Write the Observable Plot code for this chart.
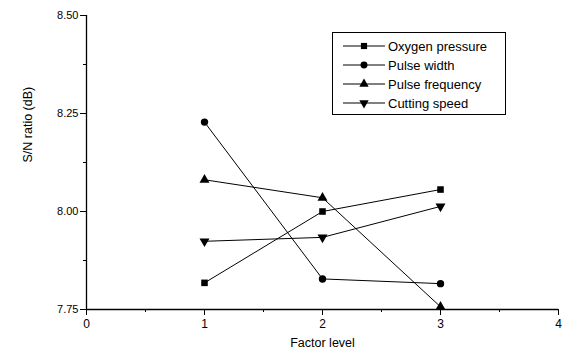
<!DOCTYPE html>
<html>
<head>
<meta charset="utf-8">
<script src="https://cdn.jsdelivr.net/npm/d3@7"></script>
<script src="https://cdn.jsdelivr.net/npm/@observablehq/plot@0.6"></script>
<style>
  html, body { margin: 0; padding: 0; background: #fff; }
  #wrap { position: relative; width: 562px; height: 360px; font-family: "Liberation Sans", Arial, sans-serif; }
  #legend { position: absolute; left: 332px; top: 32px; width: 174px; height: 83px; border: 1px solid #000; box-sizing: border-box; background: #fff; }
  .row { position: absolute; left: 10px; height: 18px; display: flex; align-items: center; font-size: 13px; color: #000; }
  .row svg { margin-right: 1px; }
</style>
</head>
<body>
<div id="wrap"><div id="chart"></div><div id="legend"></div></div>
<script>
const levels = [1, 2, 3];
const seriesNames = ["Oxygen pressure", "Pulse width", "Pulse frequency", "Cutting speed"];
const oxygenPressure = [7.818, 8.000, 8.056];
const pulseWidth = [8.228, 7.828, 7.816];
const pulseFrequency = [8.081, 8.035, 7.757];
const cuttingSpeed = [7.924, 7.934, 8.013];
const symbols = ["square", "circle", "triangle", "triangle"];
const rotations = [0, 0, 0, 180];
const xTicks = [0, 1, 2, 3, 4];
const yTicks = [7.75, 8.00, 8.25, 8.50];

const allValues = [oxygenPressure, pulseWidth, pulseFrequency, cuttingSpeed];
const data = [];
seriesNames.forEach((name, i) => {
  levels.forEach((lv, j) => data.push({series: name, level: lv, value: allValues[i][j], symbol: symbols[i], rotate: rotations[i]}));
});

const font = "Liberation Sans, Arial, sans-serif";
const chart = Plot.plot({
  width: 562,
  height: 360,
  marginLeft: 86,
  marginRight: 4,
  marginTop: 15,
  marginBottom: 51,
  style: {fontFamily: font, fontSize: "11px", background: "#fff", color: "#000", overflow: "visible"},
  x: {domain: [0, 4], ticks: xTicks},
  y: {domain: [7.75, 8.5], ticks: yTicks},
  symbol: {type: "identity"},
  marks: [
    Plot.axisX({ticks: d3.range(0.5, 4, 1), tickSize: 3, text: null, label: null}),
    Plot.axisY({ticks: d3.range(7.875, 8.5, 0.25), tickSize: 3, text: null, label: null}),
    Plot.axisX({ticks: xTicks, tickSize: 6, tickPadding: 4, tickFormat: d3.format("d"), fontSize: 12, label: null}),
    Plot.axisY({ticks: yTicks, tickSize: 6, tickPadding: 2, tickFormat: d3.format(".2f"), fontSize: 11, label: null}),
    Plot.ruleY([7.75], {stroke: "#000", strokeWidth: 1.3}),
    Plot.ruleX([0], {stroke: "#000", strokeWidth: 1.3}),
    Plot.text(["Factor level"], {frameAnchor: "bottom", dy: 37, fontSize: 12.5}),
    Plot.text(["S/N ratio (dB)"], {frameAnchor: "left", dx: -59, rotate: -90, fontSize: 12.5}),
    Plot.line(data, {x: "level", y: "value", z: "series", stroke: "#000", strokeWidth: 1}),
    Plot.dot(data, {x: "level", y: "value", symbol: "symbol", rotate: "rotate", fill: "#000", stroke: "none", r: 3.7})
  ]
});
document.getElementById("chart").appendChild(chart);

// Legend
const legend = document.getElementById("legend");
const rowTops = [4, 23, 42, 61];
seriesNames.forEach((name, i) => {
  const row = document.createElement("div");
  row.className = "row";
  row.style.top = rowTops[i] + "px";
  const ns = "http://www.w3.org/2000/svg";
  const svg = document.createElementNS(ns, "svg");
  svg.setAttribute("width", 44); svg.setAttribute("height", 18);
  const line = document.createElementNS(ns, "line");
  line.setAttribute("x1", 0); line.setAttribute("x2", 42); line.setAttribute("y1", 9); line.setAttribute("y2", 9);
  line.setAttribute("stroke", "#000"); line.setAttribute("stroke-width", 1);
  svg.appendChild(line);
  const sym = {square: d3.symbolSquare, circle: d3.symbolCircle, triangle: d3.symbolTriangle}[symbols[i]];
  const path = document.createElementNS(ns, "path");
  path.setAttribute("d", d3.symbol(sym, 38)());
  path.setAttribute("transform", `translate(21,9) rotate(${rotations[i]})`);
  path.setAttribute("fill", "#000");
  svg.appendChild(path);
  row.appendChild(svg);
  const span = document.createElement("span");
  span.textContent = name;
  row.appendChild(span);
  legend.appendChild(row);
});
</script>
</body>
</html>
